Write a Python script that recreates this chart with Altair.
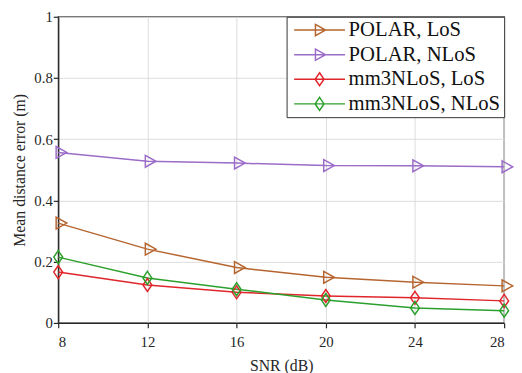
import altair as alt
import pandas as pd

snr = [8, 12, 16, 20, 24, 28]
polar_los = [0.326, 0.241, 0.181, 0.149, 0.133, 0.121]
polar_nlos = [0.557, 0.528, 0.522, 0.514, 0.513, 0.510]
mm3_los = [0.166, 0.124, 0.100, 0.088, 0.082, 0.072]
mm3_nlos = [0.215, 0.147, 0.110, 0.075, 0.049, 0.040]

series_names = ["POLAR, LoS", "POLAR, NLoS", "mm3NLoS, LoS", "mm3NLoS, NLoS"]
series_values = [polar_los, polar_nlos, mm3_los, mm3_nlos]
colors = ["#b5652f", "#9b6cc8", "#e0262b", "#2ca02c"]
x_ticks = [8, 12, 16, 20, 24, 28]
y_ticks = [0, 0.2, 0.4, 0.6, 0.8, 1]

rows = []
for name, vals in zip(series_names, series_values):
    for s, v in zip(snr, vals):
        rows.append({"snr": s, "err": v, "series": name})
df = pd.DataFrame(rows)

FONT = "Liberation Serif"
TRI = "M-0.35,-1 L1.45,0 L-0.35,1 Z"
DIA = "M0,-1.1 L0.75,0 L0,1.1 L-0.75,0 Z"
LEG_TRI = "M-4.3,0 L4.3,0 M-0.7,-0.95 L1,0 L-0.7,0.95 Z"
LEG_DIA = "M-4.3,0 L4.3,0 M0,-1.1 L0.75,0 L0,1.1 L-0.75,0 Z"

x_scale = alt.Scale(domain=[8, 28], nice=False)
y_scale = alt.Scale(domain=[0, 1], nice=False)
x_enc = alt.X("snr:Q", scale=x_scale,
              axis=alt.Axis(values=x_ticks, title="SNR (dB)", format="d"))
y_enc = alt.Y("err:Q", scale=y_scale,
              axis=alt.Axis(values=y_ticks, title="Mean distance error (m)", format="~g"))
# data-driven domain (sorted: uppercase before lowercase = series_names order)
color_enc = alt.Color("series:N", scale=alt.Scale(range=colors), legend=None)

base = alt.Chart(df).encode(x=x_enc, y=y_enc)

lines = base.mark_line(strokeWidth=1.5).encode(color=color_enc, detail="series:N")

pts_polar = base.transform_filter(
    alt.FieldOneOfPredicate(field="series", oneOf=series_names[:2])
).mark_point(shape=TRI, size=144, filled=False, strokeWidth=1.5, opacity=1).encode(color=color_enc)

pts_mm3 = base.transform_filter(
    alt.FieldOneOfPredicate(field="series", oneOf=series_names[2:])
).mark_point(shape=DIA, size=144, filled=False, strokeWidth=1.5, opacity=1).encode(color=color_enc)

# legend-only layer: its marks sit below the plotted range and are clipped away
legend_layer = alt.Chart(df).transform_calculate(
    hidden="-5"
).mark_point(size=144, filled=False, strokeWidth=1.5, opacity=1, clip=True).encode(
    x=alt.X("snr:Q", scale=x_scale),
    y=alt.Y("hidden:Q", scale=y_scale),
    stroke=alt.Stroke("series:N", scale=alt.Scale(domain=series_names, range=colors),
                      legend=alt.Legend(title=None, orient="top-right", offset=0)),
    shape=alt.Shape("series:N", scale=alt.Scale(domain=series_names,
                                                range=[LEG_TRI, LEG_TRI, LEG_DIA, LEG_DIA]),
                    legend=alt.Legend(title=None, orient="top-right", offset=0)),
)

chart = alt.layer(lines, pts_polar, pts_mm3, legend_layer).properties(
    width=453, height=311,
    autosize=alt.AutoSizeParams(type="none"),
    padding={"left": 51, "top": 6, "right": 10, "bottom": 50},
).configure_view(
    stroke="#262626", strokeWidth=1.3
).configure_axis(
    labelFont=FONT, titleFont=FONT, labelFontSize=15, titleFontSize=16,
    labelColor="#262626", titleColor="#262626", titleFontWeight="normal",
    domainColor="#262626", domainWidth=1.3, tickColor="#262626", tickSize=5, tickWidth=1.2,
    gridColor="#dcdcdc", gridWidth=1, labelPadding=3,
).configure_axisY(
    titlePadding=6, labelPadding=1
).configure_axisX(
    titlePadding=8, labelPadding=7
).configure_legend(
    labelFont=FONT, labelFontSize=21, labelColor="#111111",
    strokeColor="#333333", fillColor="white", padding=3, rowPadding=3,
    symbolSize=144, symbolStrokeWidth=1.5, symbolOffset=20, labelOffset=19,
    symbolFillColor="transparent", symbolOpacity=1,
)

chart.save("out.html", embed_options={"renderer": "svg", "actions": False})
